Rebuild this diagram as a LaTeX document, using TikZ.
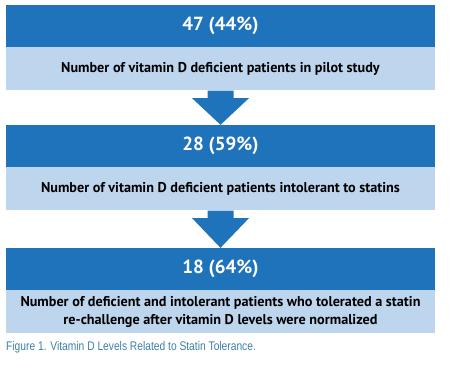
\documentclass[tikz,border=0pt]{standalone}
\usepackage{fontspec}
\setmainfont{PT Sans}
\newfontfamily\capfont[FakeStretch=0.82]{Liberation Sans}
\usetikzlibrary{calc}
\definecolor{darkblue}{HTML}{1F73BA}
\definecolor{lightblue}{HTML}{BED5EE}
\definecolor{capblue}{HTML}{3C80A8}
\tikzset{
  head/.style={fill=darkblue, minimum width=429pt, minimum height=42pt, inner sep=0pt,
    text=white, font=\bfseries\fontsize{19}{22}\selectfont},
  body/.style={fill=lightblue, minimum width=429pt, minimum height=43pt, inner sep=0pt,
    anchor=north, text=black, align=center, font=\bfseries\fontsize{14.2}{17.5}\selectfont},
}
\begin{document}
\begin{tikzpicture}[x=1pt, y=-1pt]
\useasboundingbox (0,0) rectangle (450,369);
\node[head] (t1) at (220.5,26) {47 (44\%)};
\node[body] (b1) at (t1.south) {Number of vitamin D deficient patients in pilot study};
\node[head] (t2) at (220.5,146) {28 (59\%)};
\node[body] (b2) at (t2.south) {Number of vitamin D deficient patients intolerant to statins};
\node[head] (t3) at (220.5,269) {18 (64\%)};
\node[body] (b3) at (t3.south) {Number of deficient and intolerant patients who tolerated a statin\\re-challenge after vitamin D levels were normalized};
\foreach \a/\b in {b1/t2, b2/t3} {
  \fill[darkblue] ($(\a.south)+(-13,0)$) -- ($(\a.south)+(13,0)$) -- ($(\a.south)+(13,7.5)$)
    -- ($(\a.south)+(28.5,7.5)$) -- (\b.north) -- ($(\a.south)+(-28.5,7.5)$)
    -- ($(\a.south)+(-13,7.5)$) -- cycle;
}
\node[anchor=base west, inner sep=0pt, text=capblue, font=\capfont\fontsize{12.5}{14}\selectfont] (cap) at (6,350) {Figure 1. Vitamin D Levels Related to Statin Tolerance.};
\end{tikzpicture}
\end{document}
